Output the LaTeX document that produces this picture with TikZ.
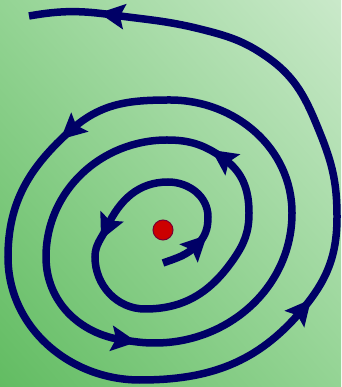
\documentclass[tikz,border=0pt]{standalone}
\usetikzlibrary{calc,shadings}
\definecolor{navy}{RGB}{0,0,102}
\definecolor{dotred}{RGB}{204,0,0}
\definecolor{dotedge}{RGB}{120,0,50}
\definecolor{bgur}{RGB}{202,233,202}
\definecolor{bgll}{RGB}{98,188,98}
\definecolor{bgmid}{RGB}{148,212,148}
\tikzset{
  spiral/.style={draw=navy,line width=7.5pt},
  tiphead/.style={fill=navy},
}
\newcommand\spiraltip[2]{\fill[tiphead,shift={(#1)},rotate=#2] (14,0) -- (-12,13) -- (-7,0) -- (-12,-13) -- cycle;}
\begin{document}
\begin{tikzpicture}[x=1pt,y=1pt]
\useasboundingbox (0,0) rectangle (341,387);
\shade[upper right=bgur, lower left=bgll, upper left=bgmid, lower right=bgmid] (0,0) rectangle (341,387);
% key points
\coordinate (p0) at (163,124);
\coordinate (p1) at (197,142);
\coordinate (p2) at (208,170);
\coordinate (p3) at (168,205);
\coordinate (p4) at (107,160);
\coordinate (p5) at (95,130);
\coordinate (p6) at (145,78);
\coordinate (p7) at (233,127);
\coordinate (p8) at (249,174);
\coordinate (p9) at (223,229);
\coordinate (p10) at (167,247);
\coordinate (p11) at (46,130);
\coordinate (p12) at (123,47);
\coordinate (p13) at (155,44);
\coordinate (p14) at (292,174);
\coordinate (p15) at (170,287);
\coordinate (p16) at (71,257);
\coordinate (p17) at (8,130);
\coordinate (p18) at (140,7);
\coordinate (p19) at (302,77);
\coordinate (p20) at (337,170);
\coordinate (p21) at (320,254);
\coordinate (p21a) at (267,330);
\coordinate (p21b) at (200,358);
\coordinate (p22) at (113,372);
\coordinate (p23) at (29,371);
\path[spiral] (p0) to[out=20,in=225] (p1) to[out=45,in=270] (p2)
  to[out=90,in=0] (p3) to[out=180,in=65] (p4) to[out=245,in=90] (p5)
  to[out=270,in=180] (p6) to[out=0,in=235] (p7) to[out=55,in=270] (p8)
  to[out=90,in=325] (p9) to[out=145,in=0] (p10) to[out=180,in=90] (p11)
  to[out=270,in=172] (p12) to[out=-8,in=180] (p13) to[out=0,in=270] (p14)
  to[out=90,in=0] (p15) to[out=180,in=42] (p16) to[out=222,in=90] (p17)
  to[out=270,in=180] (p18) to[out=0,in=230] (p19) to[out=50,in=270] (p20)
  to[out=90,in=292] (p21) to[out=112,in=325] (p21a) to[out=145,in=346] (p21b)
  to[out=166,in=352] (p22) to[out=172,in=10] (p23);
% arrowheads
\spiraltip{p1}{45}
\spiraltip{p4}{245}
\spiraltip{p9}{145}
\spiraltip{p12}{-8}
\spiraltip{p16}{222}
\spiraltip{p19}{50}
\spiraltip{p22}{172}
% centre
\node[circle,fill=dotred,draw=dotedge,line width=1pt,minimum size=20pt,inner sep=0pt] (centre) at (163,157) {};
\end{tikzpicture}
\end{document}
